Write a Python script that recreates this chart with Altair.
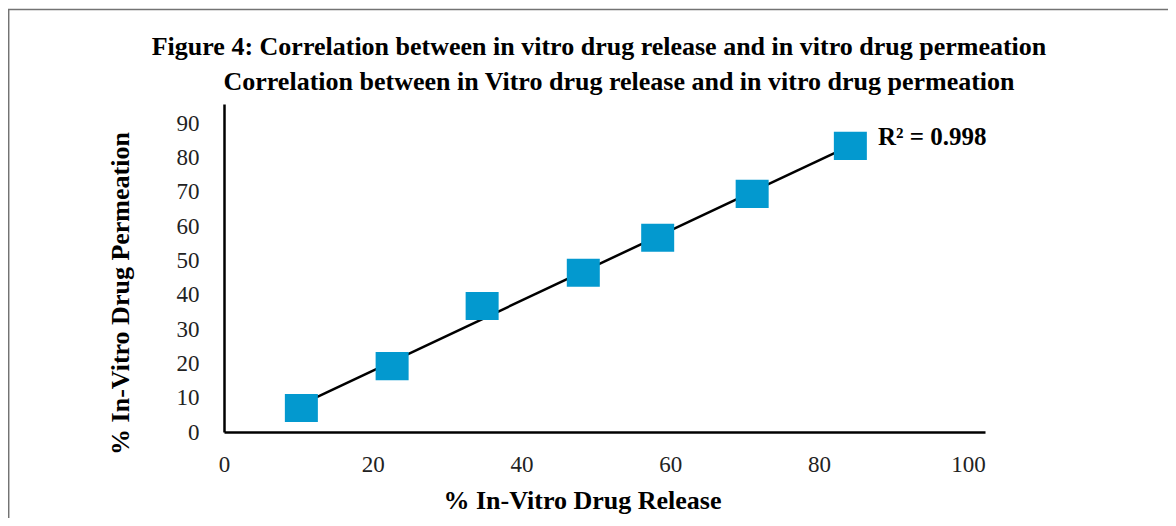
import altair as alt
import pandas as pd

release = [10.4, 22.6, 34.7, 48.3, 58.3, 71.0, 84.2]
permeation = [7.0, 19.2, 36.7, 46.4, 56.6, 69.4, 83.4]
x_ticks = [0, 20, 40, 60, 80, 100]
y_ticks = [0, 10, 20, 30, 40, 50, 60, 70, 80, 90]
title1 = "Figure 4: Correlation between in vitro drug release and in vitro drug permeation"
title2 = "Correlation between in Vitro drug release and in vitro drug permeation"
r2_label = "R\u00b2 = 0.998"
r2_pos = [87.9, 86.0]

df = pd.DataFrame({"release": release, "permeation": permeation})

W, H = 761, 328
SERIF = "Liberation Serif"

xs = alt.Scale(domain=[0, 102.3], nice=False, zero=False)
ys = alt.Scale(domain=[0, 95.6], nice=False, zero=False)

xax = alt.Axis(values=x_ticks, title="% In-Vitro Drug Release", titleX=358, titleY=68,
               titleBaseline="middle", titleAlign="center", labelOverlap=False, labelFlush=False)
yax = alt.Axis(values=y_ticks, title="% In-Vitro Drug Permeation", titleX=-104, titleY=189,
               titleAngle=-90, titleBaseline="middle", titleAlign="center", labelOverlap=False,
               labelFlush=False)

base = alt.Chart(df)

trend = base.transform_regression("release", "permeation").mark_line(
    color="black", strokeWidth=2.5
).encode(
    x=alt.X("release:Q", scale=xs, axis=xax),
    y=alt.Y("permeation:Q", scale=ys, axis=yax),
)

pts = base.mark_point(
    shape="M-1,-0.85L1,-0.85L1,0.85L-1,0.85Z", filled=True, opacity=1,
    size=1089, color="#0399CF"
).encode(
    x=alt.X("release:Q", scale=xs, axis=xax),
    y=alt.Y("permeation:Q", scale=ys, axis=yax),
)

r2 = alt.Chart(pd.DataFrame({"release": [r2_pos[0]], "permeation": [r2_pos[1]], "t": [r2_label]})).mark_text(
    font=SERIF, fontSize=25, fontWeight="bold", align="left", baseline="middle", color="black"
).encode(x=alt.X("release:Q", scale=xs, axis=xax), y=alt.Y("permeation:Q", scale=ys, axis=yax), text="t:N")

t1 = alt.Chart(pd.DataFrame({"t": [title1]})).mark_text(
    font=SERIF, fontSize=26, fontWeight="bold", align="center", baseline="middle", color="black"
).encode(x=alt.value(599 - 224), y=alt.value(47 - 104), text="t:N")

t2 = alt.Chart(pd.DataFrame({"t": [title2]})).mark_text(
    font=SERIF, fontSize=26, fontWeight="bold", align="center", baseline="middle", color="black"
).encode(x=alt.value(619 - 224), y=alt.value(82 - 104), text="t:N")

border_top = alt.Chart(pd.DataFrame({"a": [0]})).mark_rule(color="#737373", strokeWidth=1.5).encode(
    x=alt.value(-216), x2=alt.value(960), y=alt.value(-94.5)
)
border_left = alt.Chart(pd.DataFrame({"a": [0]})).mark_rule(color="#737373", strokeWidth=1.5).encode(
    x=alt.value(-215.3), y=alt.value(-94.5), y2=alt.value(430)
)

chart = alt.layer(border_top, border_left, trend, pts, r2, t1, t2).properties(
    width=W, height=H,
    autosize=alt.AutoSizeParams(type="none"),
    padding={"left": 216, "top": 96, "right": 183, "bottom": 86},
    background="white",
).configure_view(stroke=None).configure_axis(
    grid=False, ticks=False, domainColor="black", domainWidth=2.5, labelOverlap=False,
    labelFont=SERIF, labelFontSize=23, labelColor="#222222",
    titleFont=SERIF, titleFontSize=26, titleFontWeight="bold", titleColor="black",
).configure_axisX(labelPadding=21).configure_axisY(labelPadding=25)

chart.save("out.html", embed_options={"renderer": "svg", "actions": False})
